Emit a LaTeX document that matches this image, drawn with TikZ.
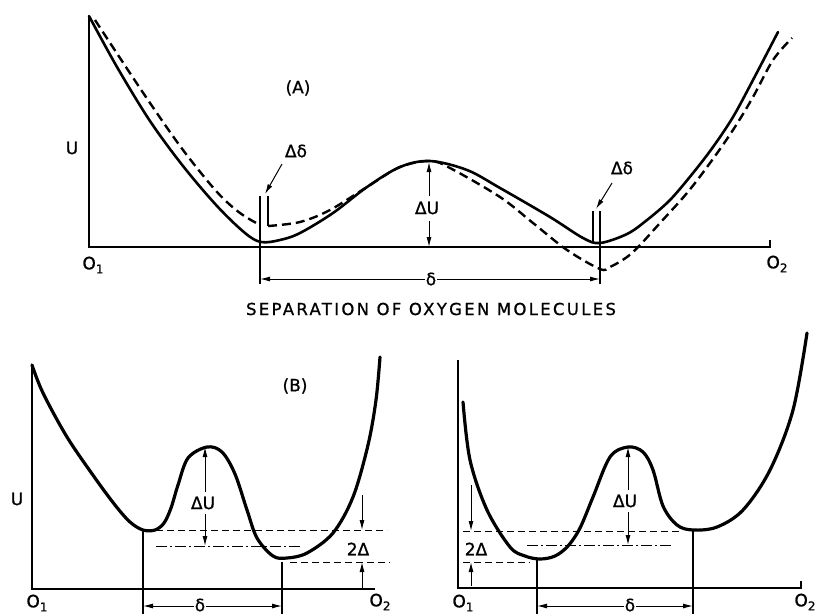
\documentclass[tikz,border=0pt]{standalone}
\usepackage{fontspec}
\setmainfont{DejaVu Sans}[FakeBold=0.9]
\newfontfamily\capfont[LetterSpace=14,FakeBold=0.9]{DejaVu Sans}
\usetikzlibrary{arrows.meta}
\newcommand{\Osub}[2]{O\raisebox{-4pt}{\fontsize{12}{12}\selectfont #2}}
\begin{document}
\begin{tikzpicture}[x=1pt,y=-1pt,
  curve/.style={line width=2.6pt, line cap=round, line join=round},
  bcurve/.style={line width=3.2pt, line cap=round, line join=round},
  dcurve/.style={line width=2.4pt, dash pattern=on 9pt off 5pt},
  axis/.style={line width=1.4pt},
  vline/.style={line width=1.2pt},
  arr/.style={line width=1pt, -{Latex[length=10pt,width=5pt]}},
  lbl/.style={font=\fontsize{17}{17}\selectfont, inner sep=1pt},
  thindash/.style={line width=1pt, dash pattern=on 7pt off 4pt},
  dashdot/.style={line width=1pt, dash pattern=on 11pt off 3pt on 2pt off 3pt},
]
\clip (0,0) rectangle (821,614);
\fill[white] (0,0) rectangle (821,614);

% ================= panel A =================
\coordinate (Aorig) at (89,247);
\coordinate (Atop) at (89,16);
\coordinate (Aend) at (770,247);
\draw[axis] (Atop) -- (Aorig) -- (Aend) -- ++(0,-7);

\draw[curve] plot[smooth, tension=0.55] coordinates {(89,16) (117,67) (150,121) (183,166) (217,206) (245,233) (261,242) (280,240) (300,233) (333,213) (367,187) (400,167) (430,161) (467,170) (500,188) (550,217) (583,238) (600,243) (627,234) (647,220) (670,200) (693,173) (713,147) (733,117) (753,80) (778,32)};

\draw[dcurve] plot[smooth, tension=0.55] coordinates {(95,20) (120,58) (150,103) (183,150) (217,192) (240,213) (260,225)};
\draw[dcurve] plot[smooth, tension=0.55] coordinates {(268,226) (300,222) (330,210) (367,187) (400,167) (430,161) (450,168) (500,197) (533,223) (567,250) (600,269) (610,267) (627,257) (640,245) (660,223) (687,193) (710,163) (733,130) (753,97) (773,60) (792,38)};

% delta-delta markers
\coordinate (mL1t) at (260,196); \coordinate (mL1b) at (260,284);
\coordinate (mL2t) at (268,196); \coordinate (mL2b) at (268,226);
\coordinate (mR1t) at (593,211); \coordinate (mR1b) at (593,243);
\coordinate (mR2t) at (600,211); \coordinate (mR2b) at (600,284);
\draw[vline] (mL1t) -- (mL1b);
\draw[vline] (mL2t) -- (mL2b);
\draw[vline] (mR1t) -- (mR1b);
\draw[vline] (mR2t) -- (mR2b);

\node[lbl] (ddL) at (296,151) {Δδ};
\coordinate (ddLs) at (282,164); \coordinate (ddLe) at (265,194);
\draw[arr] (ddLs) -- (ddLe);
\node[lbl] (ddR) at (622,168) {Δδ};
\coordinate (ddRs) at (612,183); \coordinate (ddRe) at (596,209);
\draw[arr] (ddRs) -- (ddRe);

% Delta U
\node[lbl] (dUA) at (427,208) {ΔU};
\coordinate (crestA) at (429,162);
\coordinate (baseA) at (429,247);
\coordinate (dUAt) at (429,196);
\coordinate (dUAb) at (429,221);
\draw[arr] (dUAt) -- (crestA);
\draw[arr] (dUAb) -- (baseA);

% delta dimension
\node[lbl] (dA) at (431,279) {δ};
\coordinate (dAL) at (260,279);
\coordinate (dAR) at (600,279);
\draw[arr] (dA.west) -- (dAL);
\draw[arr] (dA.east) -- (dAR);

\node[lbl] (Aa) at (298,88) {(A)};
\node[lbl] (AU) at (72,148) {U};
\node[lbl] (AO1) at (93,265) {\Osub{}{1}};
\node[lbl] (AO2) at (777,264) {\Osub{}{2}};
\node[font=\capfont\fontsize{16.5}{16.5}\selectfont, inner sep=0pt] (cap) at (431,309) {SEPARATION OF OXYGEN MOLECULES};

% ================= panel B left =================
\coordinate (Borig) at (32,589);
\coordinate (Btop) at (32,365);
\coordinate (Bend) at (375,589);
\draw[axis] (Btop) -- (Borig) -- (Bend);

\draw[bcurve] plot[smooth, tension=0.55] coordinates {(32,365) (43,393) (67,437) (95,478) (115,505) (130,522) (143,530) (155,530) (164,523) (171,508) (178,485) (188,458) (207,447) (222,452) (235,474) (247,510) (257,538) (273,556) (287,558) (307,553) (333,533) (353,497) (368,445) (376,400) (380,357)};

\coordinate (BuL) at (156,530); \coordinate (BuR) at (387,530);
\coordinate (BmL) at (156,546); \coordinate (BmR) at (300,546);
\coordinate (BlL) at (290,562); \coordinate (BlR) at (390,562);
\draw[thindash] (BuL) -- (BuR);
\draw[dashdot] (BmL) -- (BmR);
\draw[thindash] (BlL) -- (BlR);

\node[lbl] (dUB) at (203,503) {ΔU};
\coordinate (peakB) at (205,447);
\coordinate (dUBt) at (205,492);
\coordinate (dUBb) at (205,514);
\coordinate (dUBe) at (205,546);
\draw[arr] (dUBt) -- (peakB);
\draw[arr] (dUBb) -- (dUBe);

\node[lbl] (tdB) at (358,549) {2Δ};
\coordinate (tdBa) at (362,495); \coordinate (tdBb) at (362,530);
\coordinate (tdBc) at (362,588); \coordinate (tdBd) at (362,562);
\draw[arr] (tdBa) -- (tdBb);
\draw[arr] (tdBc) -- (tdBd);

\coordinate (BvLt) at (143,530); \coordinate (BvLb) at (143,614);
\coordinate (BvRt) at (282,562); \coordinate (BvRb) at (282,614);
\draw[vline] (BvLt) -- (BvLb);
\draw[vline] (BvRt) -- (BvRb);
\node[lbl] (dB) at (200,605) {δ};
\coordinate (dBL) at (143,606); \coordinate (dBR) at (282,606);
\draw[arr] (dB.west |- dBL) -- (dBL);
\draw[arr] (dB.east |- dBR) -- (dBR);

\node[lbl] (Bb) at (295,386) {(B)};
\node[lbl] (BU) at (17,499) {U};
\node[lbl] (BO1) at (37,603) {\Osub{}{1}};
\node[lbl] (BO2) at (380,602) {\Osub{}{2}};

% ================= panel B right =================
\coordinate (Corig) at (458,588);
\coordinate (Ctop) at (458,360);
\coordinate (Cend) at (801,588);
\draw[axis] (Ctop) -- (Corig) -- (Cend) -- ++(0,-7);

\draw[bcurve] plot[smooth, tension=0.55] coordinates {(463,402) (470,460) (487,510) (510,547) (525,556) (540,559) (555,556) (568,546) (580,528) (593,497) (610,457) (628,447) (643,452) (653,470) (663,506) (677,525) (693,530) (717,527) (743,510) (770,470) (793,410) (807,333)};

\coordinate (CuL) at (463,531); \coordinate (CuR) at (680,531);
\coordinate (CmL) at (527,545); \coordinate (CmR) at (672,545);
\coordinate (ClL) at (463,562); \coordinate (ClR) at (530,562);
\draw[thindash] (CuL) -- (CuR);
\draw[dashdot] (CmL) -- (CmR);
\draw[thindash] (ClL) -- (ClR);

\node[lbl] (dUC) at (625,501) {ΔU};
\coordinate (peakC) at (628,447);
\coordinate (dUCt) at (628,490);
\coordinate (dUCb) at (628,512);
\coordinate (dUCe) at (628,545);
\draw[arr] (dUCt) -- (peakC);
\draw[arr] (dUCb) -- (dUCe);

\node[lbl] (tdC) at (476,549) {2Δ};
\coordinate (tdCa) at (471,485); \coordinate (tdCb) at (471,531);
\coordinate (tdCc) at (471,586); \coordinate (tdCd) at (471,562);
\draw[arr] (tdCa) -- (tdCb);
\draw[arr] (tdCc) -- (tdCd);

\coordinate (CvLt) at (537,559); \coordinate (CvLb) at (537,614);
\coordinate (CvRt) at (693,531); \coordinate (CvRb) at (693,614);
\draw[vline] (CvLt) -- (CvLb);
\draw[vline] (CvRt) -- (CvRb);
\node[lbl] (dC) at (630,605) {δ};
\coordinate (dCL) at (537,606); \coordinate (dCR) at (693,606);
\draw[arr] (dC.west |- dCL) -- (dCL);
\draw[arr] (dC.east |- dCR) -- (dCR);

\node[lbl] (CO1) at (463,603) {\Osub{}{1}};
\node[lbl] (CO2) at (805,602) {\Osub{}{2}};
\end{tikzpicture}
\end{document}
